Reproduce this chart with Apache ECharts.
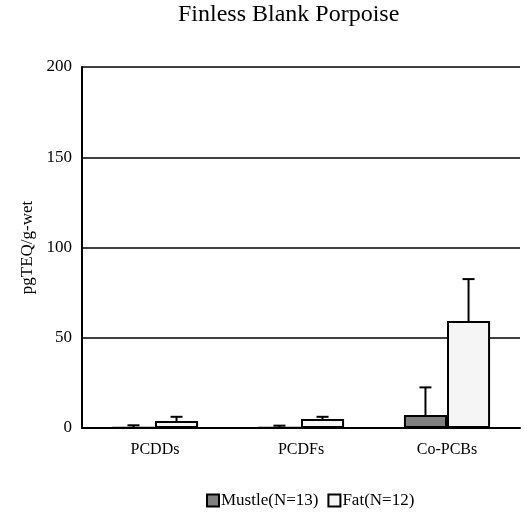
<!DOCTYPE html>
<html>
<head>
<meta charset="utf-8">
<script src="https://cdn.jsdelivr.net/npm/echarts@6/dist/echarts.min.js"></script>
<style>
  html, body { margin: 0; padding: 0; background: #fff; }
  #chart { width: 527px; height: 515px; }
</style>
</head>
<body>
<div id="chart"></div>
<script>
// Dioxin-like compound levels (TEQ) in finless porpoise tissue
const categories = ['PCDDs', 'PCDFs', 'Co-PCBs'];
const muscleMean = [0.3, 0.3, 7.2];
const muscleErr = [1.2, 1.0, 15.3];
const fatMean = [3.9, 5.0, 59.3];
const fatErr = [2.3, 1.2, 23.2];
const yTicks = [0, 50, 100, 150, 200];

const FONT = '"Liberation Serif", "Times New Roman", serif';
const GAP = 0.41;

function errorSeries(name, means, errs, side) {
  return {
    name: name,
    type: 'custom',
    z: 5,
    silent: true,
    data: means.map((m, i) => [i, m, m + errs[i]]),
    renderItem: function (params, api) {
      const idx = api.value(0);
      const band = api.size([1, 0])[0];
      const bw = band * (1 - GAP) / 2;
      const base = api.coord([idx, api.value(1)]);
      const top = api.coord([idx, api.value(2)]);
      const x = base[0] + side * bw / 2;
      const cap = 12;
      const style = { stroke: '#000', lineWidth: 2 };
      return {
        type: 'group',
        children: [
          { type: 'line', shape: { x1: x, y1: base[1], x2: x, y2: top[1] }, style: style },
          { type: 'line', shape: { x1: x - cap / 2, y1: top[1], x2: x + cap / 2, y2: top[1] }, style: style }
        ]
      };
    }
  };
}

const chart = echarts.init(document.getElementById('chart'), null, { renderer: 'canvas' });
chart.setOption({
  animation: false,
  backgroundColor: '#fff',
  title: {
    text: 'Finless Blank Porpoise',
    left: 178,
    top: 3,
    padding: 0,
    textStyle: { fontFamily: FONT, fontSize: 24, fontWeight: 'normal', color: '#000' }
  },
  legend: {
    top: 492,
    left: 206,
    padding: 0,
    itemWidth: 12,
    itemHeight: 12,
    itemGap: 9,
    icon: 'rect',
    data: ['Mustle(N=13)', 'Fat(N=12)'],
    textStyle: { fontFamily: FONT, fontSize: 17, color: '#000', padding: [0, 0, 0, -3] }
  },
  grid: { left: 82, right: 7, top: 67, bottom: 87 },
  xAxis: {
    type: 'category',
    data: categories,
    axisLine: { lineStyle: { color: '#000', width: 2 } },
    axisTick: { show: false },
    axisLabel: { fontFamily: FONT, fontSize: 16, color: '#000', margin: 14 }
  },
  yAxis: {
    type: 'value',
    min: yTicks[0],
    max: yTicks[yTicks.length - 1],
    interval: 50,
    name: 'pgTEQ/g-wet',
    nameLocation: 'middle',
    nameGap: 38,
    nameTextStyle: { fontFamily: FONT, fontSize: 17, color: '#000' },
    axisLine: { show: true, lineStyle: { color: '#000', width: 2 } },
    axisTick: { show: false },
    axisLabel: { fontFamily: FONT, fontSize: 17, color: '#000', margin: 10 },
    splitLine: { show: true, lineStyle: { color: '#000', width: 1.5 } }
  },
  series: [
    {
      name: 'Mustle(N=13)',
      type: 'bar',
      data: muscleMean,
      barCategoryGap: (GAP * 100) + '%',
      barGap: '0%',
      itemStyle: { color: '#808080', borderColor: '#000', borderWidth: 2 }
    },
    {
      name: 'Fat(N=12)',
      type: 'bar',
      data: fatMean,
      barCategoryGap: (GAP * 100) + '%',
      barGap: '0%',
      itemStyle: { color: '#f5f5f5', borderColor: '#000', borderWidth: 2 }
    },
    errorSeries('muscleErr', muscleMean, muscleErr, -1),
    errorSeries('fatErr', fatMean, fatErr, 1)
  ]
});
</script>
</body>
</html>
